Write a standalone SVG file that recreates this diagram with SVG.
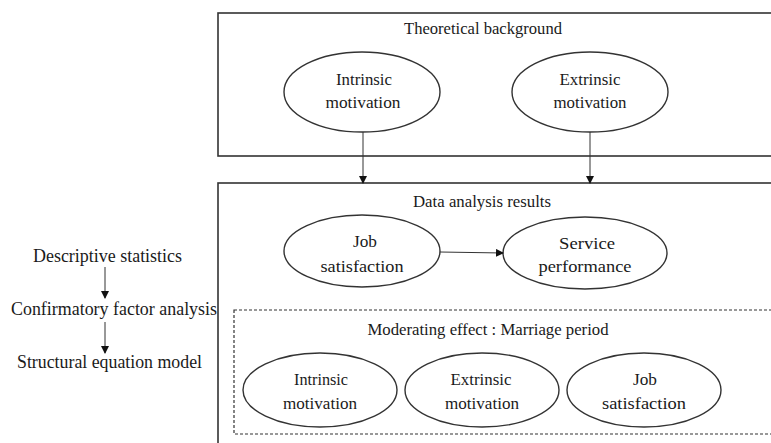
<svg xmlns="http://www.w3.org/2000/svg" width="771" height="443" viewBox="0 0 771 443">
<style>
text{font-family:"Liberation Serif","Times New Roman",serif;font-size:17px;fill:#1a1a1a;text-anchor:middle}
text.side{font-size:18px}
.box{fill:none;stroke:#333;stroke-width:1.6}
.dash{fill:none;stroke:#333;stroke-width:1.2;stroke-dasharray:3,2}
ellipse{fill:#fff;stroke:#333;stroke-width:1.4}
.conn{stroke:#333;stroke-width:1;fill:none;marker-end:url(#ah)}
</style>
<defs>
<marker id="ah" markerWidth="8" markerHeight="8" refX="7" refY="4" orient="auto" markerUnits="userSpaceOnUse">
<path d="M0,0 L8,4 L0,8 z" fill="#111"/>
</marker>
</defs>
<rect width="771" height="443" fill="#fff"/>
<g id="theoretical">
<rect class="box" x="218" y="13" width="600" height="143"/>
<text x="483" y="34" textLength="158" lengthAdjust="spacingAndGlyphs">Theoretical background</text>
</g>
<g id="tb-intrinsic">
<ellipse cx="362" cy="92" rx="78" ry="40"/>
<text x="364" y="85" textLength="56" lengthAdjust="spacingAndGlyphs">Intrinsic</text>
<text x="363" y="108" textLength="75" lengthAdjust="spacingAndGlyphs">motivation</text>
</g>
<g id="tb-extrinsic">
<ellipse cx="590" cy="92" rx="78" ry="40"/>
<text x="590" y="85" textLength="61" lengthAdjust="spacingAndGlyphs">Extrinsic</text>
<text x="590" y="108" textLength="73" lengthAdjust="spacingAndGlyphs">motivation</text>
</g>
<g id="results">
<rect class="box" x="218" y="183" width="600" height="300"/>
<text x="482" y="207" textLength="138" lengthAdjust="spacingAndGlyphs">Data analysis results</text>
</g>
<g id="job">
<ellipse cx="362" cy="251" rx="78" ry="36"/>
<text x="365" y="247" textLength="24" lengthAdjust="spacingAndGlyphs">Job</text>
<text x="362" y="272" textLength="83" lengthAdjust="spacingAndGlyphs">satisfaction</text>
</g>
<g id="service">
<ellipse cx="585" cy="253" rx="82" ry="36"/>
<text x="587" y="249" textLength="56" lengthAdjust="spacingAndGlyphs">Service</text>
<text x="585" y="272" textLength="93" lengthAdjust="spacingAndGlyphs">performance</text>
</g>
<g id="moderating">
<rect class="dash" x="234" y="310" width="580" height="124"/>
<text x="488" y="335" textLength="241" lengthAdjust="spacingAndGlyphs">Moderating effect : Marriage period</text>
</g>
<g id="m-intrinsic">
<ellipse cx="320" cy="390" rx="77" ry="37"/>
<text x="321" y="385" textLength="54" lengthAdjust="spacingAndGlyphs">Intrinsic</text>
<text x="320" y="409" textLength="74" lengthAdjust="spacingAndGlyphs">motivation</text>
</g>
<g id="m-extrinsic">
<ellipse cx="482" cy="390" rx="77" ry="37"/>
<text x="481" y="385" textLength="61" lengthAdjust="spacingAndGlyphs">Extrinsic</text>
<text x="482" y="409" textLength="74" lengthAdjust="spacingAndGlyphs">motivation</text>
</g>
<g id="m-job">
<ellipse cx="644" cy="390" rx="77" ry="37"/>
<text x="645" y="385" textLength="24" lengthAdjust="spacingAndGlyphs">Job</text>
<text x="644" y="409" textLength="84" lengthAdjust="spacingAndGlyphs">satisfaction</text>
</g>
<g id="descriptive"><text class="side" x="107.5" y="262" textLength="149" lengthAdjust="spacingAndGlyphs">Descriptive statistics</text></g>
<g id="confirmatory"><text class="side" x="114" y="315" textLength="206" lengthAdjust="spacingAndGlyphs">Confirmatory factor analysis</text></g>
<g id="structural"><text class="side" x="109.5" y="368" textLength="185" lengthAdjust="spacingAndGlyphs">Structural equation model</text></g>
<g id="connectors">
<line class="conn" x1="363" y1="132" x2="363" y2="183"/>
<line class="conn" x1="590" y1="132" x2="590" y2="183"/>
<line class="conn" x1="440" y1="252" x2="503" y2="253"/>
<line class="conn" x1="105" y1="267" x2="105" y2="298"/>
<line class="conn" x1="105" y1="322" x2="105" y2="353"/>
</g>
</svg>
